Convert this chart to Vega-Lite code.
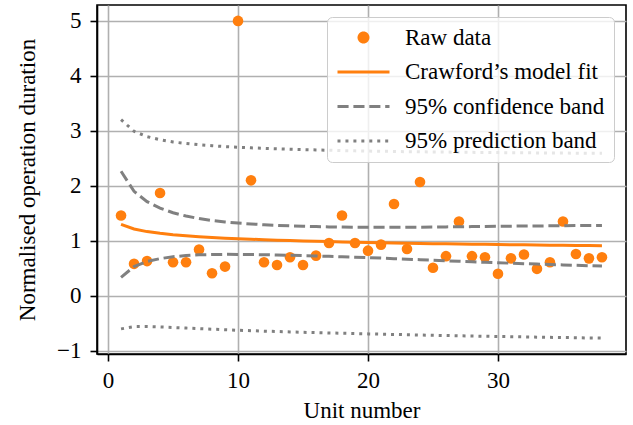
{
  "$schema": "https://vega.github.io/schema/vega-lite/v6.json",
  "width": 529,
  "height": 349,
  "autosize": "none",
  "padding": {"left": 97, "top": 5, "right": 7, "bottom": 71},
  "background": "white",
  "data": {
    "values": [
      {"unit": 1, "raw": 1.46, "fit": 1.300, "cl": 0.335, "cu": 2.265, "pl": -0.603, "pu": 3.203},
      {"unit": 2, "raw": 0.58, "fit": 1.215, "cl": 0.530, "cu": 1.900, "pl": -0.562, "pu": 2.992},
      {"unit": 3, "raw": 0.63, "fit": 1.167, "cl": 0.622, "cu": 1.712, "pl": -0.561, "pu": 2.895},
      {"unit": 4, "raw": 1.87, "fit": 1.135, "cl": 0.675, "cu": 1.595, "pl": -0.568, "pu": 2.838},
      {"unit": 5, "raw": 0.61, "fit": 1.110, "cl": 0.710, "cu": 1.510, "pl": -0.578, "pu": 2.798},
      {"unit": 6, "raw": 0.61, "fit": 1.091, "cl": 0.731, "cu": 1.451, "pl": -0.588, "pu": 2.770},
      {"unit": 7, "raw": 0.84, "fit": 1.074, "cl": 0.744, "cu": 1.404, "pl": -0.599, "pu": 2.747},
      {"unit": 8, "raw": 0.41, "fit": 1.060, "cl": 0.750, "cu": 1.370, "pl": -0.609, "pu": 2.729},
      {"unit": 9, "raw": 0.53, "fit": 1.048, "cl": 0.753, "cu": 1.343, "pl": -0.618, "pu": 2.714},
      {"unit": 10, "raw": 5.00, "fit": 1.037, "cl": 0.752, "cu": 1.322, "pl": -0.628, "pu": 2.702},
      {"unit": 11, "raw": 2.10, "fit": 1.028, "cl": 0.750, "cu": 1.306, "pl": -0.635, "pu": 2.691},
      {"unit": 12, "raw": 0.61, "fit": 1.019, "cl": 0.746, "cu": 1.292, "pl": -0.644, "pu": 2.682},
      {"unit": 13, "raw": 0.56, "fit": 1.011, "cl": 0.741, "cu": 1.281, "pl": -0.651, "pu": 2.673},
      {"unit": 14, "raw": 0.70, "fit": 1.004, "cl": 0.736, "cu": 1.272, "pl": -0.658, "pu": 2.666},
      {"unit": 15, "raw": 0.56, "fit": 0.997, "cl": 0.730, "cu": 1.264, "pl": -0.665, "pu": 2.659},
      {"unit": 16, "raw": 0.73, "fit": 0.991, "cl": 0.724, "cu": 1.258, "pl": -0.671, "pu": 2.653},
      {"unit": 17, "raw": 0.96, "fit": 0.985, "cl": 0.717, "cu": 1.253, "pl": -0.677, "pu": 2.647},
      {"unit": 18, "raw": 1.46, "fit": 0.979, "cl": 0.709, "cu": 1.249, "pl": -0.683, "pu": 2.641},
      {"unit": 19, "raw": 0.96, "fit": 0.974, "cl": 0.702, "cu": 1.246, "pl": -0.688, "pu": 2.636},
      {"unit": 20, "raw": 0.82, "fit": 0.969, "cl": 0.694, "cu": 1.244, "pl": -0.694, "pu": 2.632},
      {"unit": 21, "raw": 0.93, "fit": 0.965, "cl": 0.685, "cu": 1.245, "pl": -0.699, "pu": 2.629},
      {"unit": 22, "raw": 1.67, "fit": 0.960, "cl": 0.675, "cu": 1.245, "pl": -0.705, "pu": 2.625},
      {"unit": 23, "raw": 0.85, "fit": 0.956, "cl": 0.666, "cu": 1.246, "pl": -0.709, "pu": 2.621},
      {"unit": 24, "raw": 2.07, "fit": 0.952, "cl": 0.656, "cu": 1.248, "pl": -0.715, "pu": 2.619},
      {"unit": 25, "raw": 0.51, "fit": 0.948, "cl": 0.646, "cu": 1.250, "pl": -0.720, "pu": 2.616},
      {"unit": 26, "raw": 0.72, "fit": 0.945, "cl": 0.637, "cu": 1.253, "pl": -0.724, "pu": 2.614},
      {"unit": 27, "raw": 1.35, "fit": 0.941, "cl": 0.627, "cu": 1.255, "pl": -0.729, "pu": 2.611},
      {"unit": 28, "raw": 0.72, "fit": 0.938, "cl": 0.618, "cu": 1.258, "pl": -0.733, "pu": 2.609},
      {"unit": 29, "raw": 0.70, "fit": 0.935, "cl": 0.609, "cu": 1.261, "pl": -0.737, "pu": 2.607},
      {"unit": 30, "raw": 0.40, "fit": 0.931, "cl": 0.599, "cu": 1.263, "pl": -0.742, "pu": 2.604},
      {"unit": 31, "raw": 0.68, "fit": 0.929, "cl": 0.592, "cu": 1.266, "pl": -0.745, "pu": 2.603},
      {"unit": 32, "raw": 0.75, "fit": 0.926, "cl": 0.584, "cu": 1.268, "pl": -0.749, "pu": 2.601},
      {"unit": 33, "raw": 0.49, "fit": 0.923, "cl": 0.576, "cu": 1.270, "pl": -0.753, "pu": 2.599},
      {"unit": 34, "raw": 0.61, "fit": 0.920, "cl": 0.568, "cu": 1.272, "pl": -0.757, "pu": 2.597},
      {"unit": 35, "raw": 1.35, "fit": 0.918, "cl": 0.561, "cu": 1.275, "pl": -0.760, "pu": 2.596},
      {"unit": 36, "raw": 0.76, "fit": 0.915, "cl": 0.554, "cu": 1.276, "pl": -0.764, "pu": 2.594},
      {"unit": 37, "raw": 0.68, "fit": 0.912, "cl": 0.547, "cu": 1.277, "pl": -0.768, "pu": 2.592},
      {"unit": 38, "raw": 0.70, "fit": 0.910, "cl": 0.540, "cu": 1.280, "pl": -0.771, "pu": 2.591}
    ]
  },
  "encoding": {
    "x": {
      "field": "unit", "type": "quantitative",
      "scale": {"domain": [-0.85, 39.85], "nice": false, "zero": false},
      "axis": {"values": [0, 10, 20, 30], "format": "d", "title": "Unit number", "titlePadding": 7, "labelPadding": 8}
    }
  },
  "layer": [
    {
      "mark": {"type": "point", "filled": true, "opacity": 1, "size": 113},
      "encoding": {
        "y": {
          "field": "raw", "type": "quantitative",
          "scale": {"domain": [-1.06, 5.29], "nice": false, "zero": false},
          "axis": {"values": [-1, 0, 1, 2, 3, 4, 5], "format": "d", "title": "Normalised operation duration", "titlePadding": 17, "labelPadding": 9}
        },
        "color": {
          "datum": "Raw data",
          "scale": {"domain": ["Raw data", "Crawford’s model fit", "95% confidence band", "95% prediction band"], "range": ["#ff7f0e", "#ff7f0e", "#808080", "#808080"]},
          "legend": {
            "encode": {
              "symbols": {
                "update": {
                  "shape": {"signal": "datum.value === 'Raw data' ? 'M2.2,0A0.6,0.6,0,1,1,1.0,0A0.6,0.6,0,1,1,2.2,0Z' : 'M-1,0H4.2'"},
                  "size": {"value": 400},
                  "fill": {"signal": "datum.value === 'Raw data' ? '#ff7f0e' : 'transparent'"},
                  "stroke": {"signal": "datum.value === 'Raw data' ? 'transparent' : (datum.value === 'Crawford’s model fit' ? '#ff7f0e' : '#808080')"},
                  "strokeWidth": {"signal": "datum.value === 'Raw data' ? 0 : 3"},
                  "strokeDash": {"signal": "datum.value === '95% confidence band' ? [11.1, 4.8] : (datum.value === '95% prediction band' ? [3, 4.95] : [1, 0])"},
                  "opacity": {"value": 1}
                }
              }
            }
          }
        }
      }
    },
    {
      "mark": {"type": "line", "strokeWidth": 3},
      "encoding": {"y": {"field": "fit", "type": "quantitative"}, "color": {"datum": "Crawford’s model fit"}}
    },
    {
      "mark": {"type": "line", "strokeWidth": 3, "strokeDash": [11.1, 4.8]},
      "encoding": {"y": {"field": "cl", "type": "quantitative"}, "color": {"datum": "95% confidence band"}}
    },
    {
      "mark": {"type": "line", "strokeWidth": 3, "strokeDash": [11.1, 4.8]},
      "encoding": {"y": {"field": "cu", "type": "quantitative"}, "color": {"datum": "95% confidence band"}}
    },
    {
      "mark": {"type": "line", "strokeWidth": 3, "strokeDash": [3, 4.95]},
      "encoding": {"y": {"field": "pl", "type": "quantitative"}, "color": {"datum": "95% prediction band"}}
    },
    {
      "mark": {"type": "line", "strokeWidth": 3, "strokeDash": [3, 4.95]},
      "encoding": {"y": {"field": "pu", "type": "quantitative"}, "color": {"datum": "95% prediction band"}}
    }
  ],
  "resolve": {"scale": {"y": "shared", "color": "shared"}},
  "config": {
    "font": "Liberation Serif",
    "view": {"stroke": "black", "strokeWidth": 1.6},
    "axis": {
      "labelFontSize": 23, "titleFontSize": 23, "labelColor": "black", "titleColor": "black",
      "titleFontWeight": "normal", "labelFont": "Liberation Serif", "titleFont": "Liberation Serif",
      "gridColor": "#b0b0b0", "gridWidth": 1.6, "domainColor": "black", "domainWidth": 1.6,
      "tickColor": "black", "tickWidth": 1.6, "tickSize": 7
    },
    "legend": {
      "title": null,
      "orient": "top-right",
      "offset": 12,
      "padding": 9,
      "rowPadding": 10.5,
      "labelFontSize": 23,
      "labelFont": "Liberation Serif",
      "labelColor": "black",
      "labelOffset": 46,
      "symbolSize": 400,
      "cornerRadius": 5,
      "fillColor": "rgba(255,255,255,0.8)",
      "strokeColor": "#cccccc",
      "labelLimit": 400,
      "symbolOpacity": 1,
      "symbolStrokeWidth": 3
    }
  }
}
